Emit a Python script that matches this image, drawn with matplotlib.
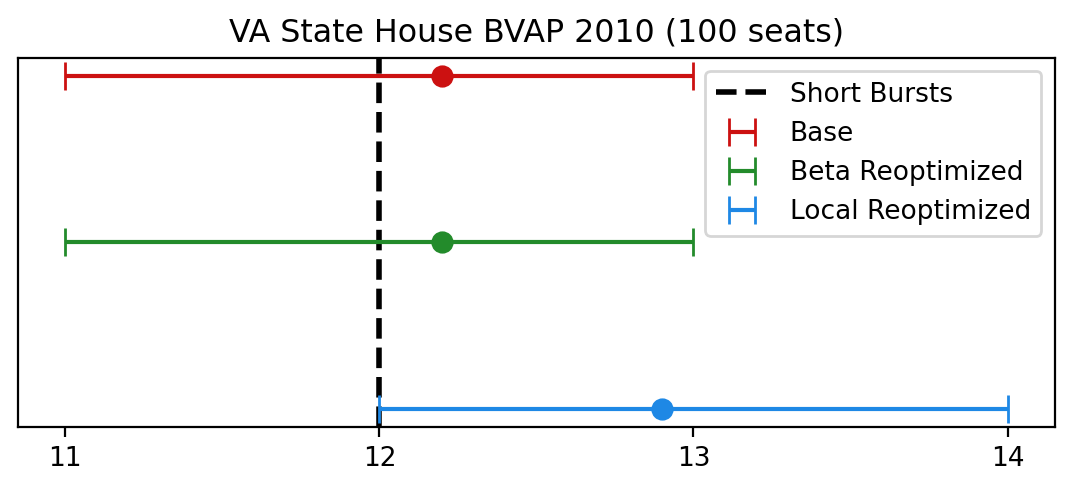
import matplotlib
matplotlib.use("Agg")
import matplotlib.pyplot as plt

labels = ["Base", "Beta Reoptimized", "Local Reoptimized"]
centers = [12.2, 12.2, 12.9]
lows = [11, 11, 12]
highs = [13, 13, 14]
ypos = [2, 1, 0]
colors = ["#cc1111", "#238b2b", "#1e88e5"]
short_bursts = 12

plt.rcParams["font.size"] = 9.5

fig, ax = plt.subplots(figsize=(5.37, 2.45), dpi=200)

ax.axvline(short_bursts, color="black", linestyle="--", linewidth=2, label="Short Bursts")
for lab, c, lo, hi, y, col in zip(labels, centers, lows, highs, ypos, colors):
    ax.errorbar([c], [y], xerr=[[c - lo], [hi - c]], fmt="none", ecolor=col,
                capsize=5, elinewidth=1.5, label=lab)
    ax.plot([c], [y], "o", color=col, markersize=7)

ax.set_yticks([])
ax.set_xticks([11, 12, 13, 14])
ax.set_xlim(10.85, 14.15)
ax.set_ylim(-0.108, 2.108)
ax.set_title("VA State House BVAP 2010 (100 seats)")
ax.legend(loc="upper right")

fig.subplots_adjust(left=0.017, right=0.982, top=0.882, bottom=0.129)
fig.savefig("out.png", dpi=200)
